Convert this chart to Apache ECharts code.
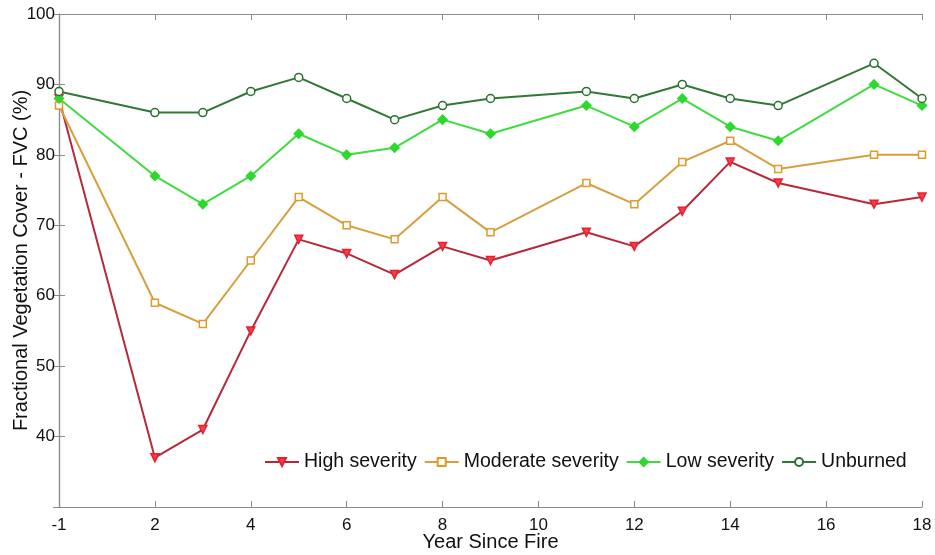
<!DOCTYPE html>
<html>
<head>
<meta charset="utf-8">
<script src="https://cdn.jsdelivr.net/npm/echarts@6/dist/echarts.min.js"></script>
<style>
  html, body { margin: 0; padding: 0; background: #fff; }
  #chart { width: 935px; height: 555px; }
</style>
</head>
<body>
<div id="chart"></div>
<script>
// Years since fire; the pre-fire year (-1) sits at axis position 0
const years = [-1, 2, 3, 4, 5, 6, 7, 8, 9, 11, 12, 13, 14, 15, 17, 18];
const xTickLabels = { 0: '-1' };

const highSeverity     = [88, 37, 41, 55, 68, 66, 63, 67, 65, 69, 67, 72, 79, 76, 73, 74];
const moderateSeverity = [87, 59, 56, 65, 74, 70, 68, 74, 69, 76, 73, 79, 82, 78, 80, 80];
const lowSeverity      = [88, 77, 73, 77, 83, 80, 81, 85, 83, 87, 84, 88, 84, 82, 90, 87];
const unburned         = [89, 86, 86, 89, 91, 88, 85, 87, 88, 89, 88, 90, 88, 87, 93, 88];

const pos = y => (y === -1 ? 0 : y);
const pairs = vals => years.map((y, i) => [pos(y), vals[i]]);

const font = 'Liberation Sans, Arial, sans-serif';
const axisGray = '#8c8c8c';

function series(name, vals, line, marker, fill, symbol, extra) {
  return Object.assign({
    name: name,
    type: 'line',
    data: pairs(vals),
    symbol: symbol,
    symbolSize: 8,
    lineStyle: { color: line, width: 2 },
    itemStyle: { color: fill, borderColor: marker, borderWidth: 1.5 },
    emphasis: { disabled: true },
    z: 3
  }, extra || {});
}

const tickStyle = { show: true, inside: true, length: 6, lineStyle: { color: axisGray } };
const lineStyle = { show: true, lineStyle: { color: axisGray, width: 1.2 } };

const chart = echarts.init(document.getElementById('chart'), null, { renderer: 'canvas' });
chart.setOption({
  animation: false,
  backgroundColor: '#ffffff',
  grid: { left: 59, top: 14, right: 13, bottom: 48, containLabel: false, outerBoundsMode: 'none' },
  legend: {
    left: 259, top: 447,
    itemWidth: 34, itemHeight: 10, itemGap: 7,
    textStyle: { fontFamily: font, fontSize: 19.5, color: '#111' },
    data: ['High severity', 'Moderate severity', 'Low severity', 'Unburned']
  },
  xAxis: [{
    type: 'value', min: 0, max: 18, interval: 2,
    name: 'Year Since Fire', nameLocation: 'middle', nameGap: 25, nameMoveOverlap: false,
    nameTextStyle: { fontFamily: font, fontSize: 20, color: '#111' },
    axisLine: lineStyle,
    axisTick: tickStyle,
    axisLabel: {
      fontFamily: font, fontSize: 17, color: '#111', margin: 10,
      formatter: v => (xTickLabels[v] !== undefined ? xTickLabels[v] : String(v))
    },
    splitLine: { show: false }
  }, {
    type: 'value', min: 0, max: 18, interval: 2, position: 'top',
    axisLine: lineStyle, axisTick: tickStyle,
    axisLabel: { show: false }, splitLine: { show: false }
  }],
  yAxis: [{
    type: 'value', min: 30, max: 100, interval: 10,
    name: 'Fractional Vegetation Cover - FVC (%)', nameLocation: 'middle', nameGap: 28, nameMoveOverlap: false,
    nameTextStyle: { fontFamily: font, fontSize: 20, color: '#111' },
    axisLine: lineStyle,
    axisTick: tickStyle,
    axisLabel: {
      fontFamily: font, fontSize: 17, color: '#111', margin: 4,
      formatter: v => (v === 30 ? '' : String(v))
    },
    splitLine: { show: false }
  }, {
    type: 'value', min: 30, max: 100, interval: 10, position: 'right',
    axisLine: lineStyle, axisTick: tickStyle,
    axisLabel: { show: false }, splitLine: { show: false }
  }],
  series: [
    series('High severity', highSeverity, '#b8283a', '#e8202c', '#f04050', 'triangle', { symbolRotate: 180, symbolSize: 8 }),
    series('Moderate severity', moderateSeverity, '#d6a040', '#e09a2a', '#ffffff', 'rect', { symbolSize: 7 }),
    series('Low severity', lowSeverity, '#3fdc3f', '#2ed82e', '#2ed82e', 'diamond', { symbolSize: 9 }),
    series('Unburned', unburned, '#2e7a34', '#2a7030', '#ffffff', 'circle')
  ]
});
</script>
</body>
</html>
